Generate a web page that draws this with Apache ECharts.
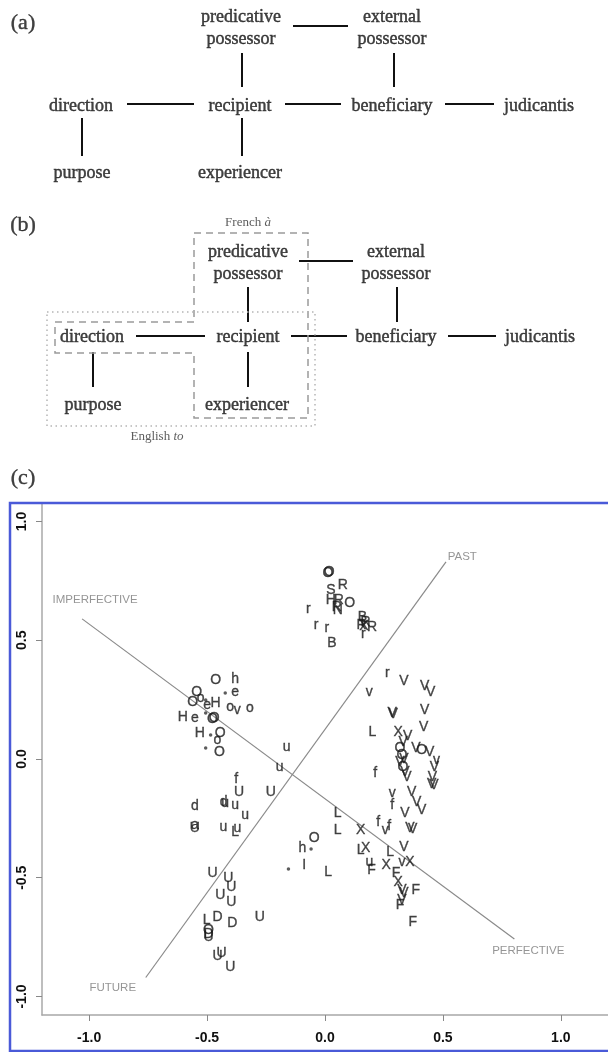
<!DOCTYPE html>
<html>
<head>
<meta charset="utf-8">
<script src="https://cdn.jsdelivr.net/npm/echarts@6/dist/echarts.min.js"></script>
<style>html,body{margin:0;padding:0;background:#fff}#c{width:608px;height:1052px}</style>
</head>
<body>
<div id="c"></div>
<script>
// ---------- Panels (a) and (b): semantic map nodes [label, x, y] in layout units ----------
const panelANodes = [
  ['predicative\npossessor', 241, 28], ['external\npossessor', 392, 28],
  ['direction', 81, 106], ['recipient', 240, 106], ['beneficiary', 392, 106], ['judicantis', 539, 106],
  ['purpose', 82, 173], ['experiencer', 240, 173]
];
const panelAEdges = [
  [[293, 26], [348, 26]], [[242, 53], [242, 87]], [[394, 53], [394, 87]],
  [[127, 104], [194, 104]], [[285, 104], [341, 104]], [[445, 104], [494, 104]],
  [[82, 118], [82, 156]], [[242, 118], [242, 156]]
];
const panelBNodes = [
  ['predicative\npossessor', 248, 263.5], ['external\npossessor', 396, 263.5],
  ['direction', 92, 337], ['recipient', 248, 337], ['beneficiary', 396, 337], ['judicantis', 540, 337],
  ['purpose', 93, 405], ['experiencer', 247, 405]
];
const panelBEdges = [
  [[299, 261], [353, 261]], [[248, 287], [248, 322]], [[397, 287], [397, 322]],
  [[136, 336], [205, 336]], [[291, 336], [347, 336]], [[448, 336], [496, 336]],
  [[93, 352], [93, 387]], [[248, 352], [248, 387]]
];
const frenchRegion = [[194,233],[308,233],[308,418],[194,418],[194,353],[55,353],[55,322],[194,322],[194,233]];
const englishRegion = [[47,312],[315,312],[315,426],[47,426],[47,312]];
const panelTags = [['(a)', 23, 23], ['(b)', 23, 225], ['(c)', 23, 478]];

// ---------- Panel (c): scatter of letters [x, y, letter] ----------
const pointsUpper = [
  [0.013,0.783,'O'],[0.018,0.786,'O'],[0.075,0.733,'R'],[0.025,0.712,'S'],[0.025,0.669,'H'],
  [0.059,0.669,'R'],[0.105,0.657,'O'],[0.054,0.627,'N'],[0.050,0.640,'R'],[-0.071,0.632,'r'],
  [-0.038,0.564,'r'],[0.008,0.552,'r'],[0.029,0.488,'B'],[0.159,0.598,'B'],[0.172,0.577,'R'],
  [0.200,0.556,'R'],[0.155,0.564,'R'],[0.165,0.560,'X'],[0.163,0.526,'r']
];
const pointsLeft = [
  [-0.464,0.333,'O'],[-0.381,0.337,'h'],[-0.381,0.282,'e'],[-0.544,0.282,'O'],[-0.561,0.240,'O'],
  [-0.527,0.257,'o'],[-0.464,0.236,'H'],[-0.402,0.219,'o'],[-0.372,0.206,'v'],[-0.318,0.215,'o'],
  [-0.603,0.177,'H'],[-0.552,0.173,'e'],[-0.477,0.168,'O'],[-0.470,0.172,'O'],[-0.531,0.109,'H'],
  [-0.444,0.109,'O'],[-0.456,0.080,'o'],[-0.448,0.029,'O'],[-0.500,0.225,'e']
];
const pointsMiddle = [
  [-0.163,0.051,'u'],[-0.192,-0.034,'u'],[-0.230,-0.139,'U'],[-0.377,-0.084,'f'],[-0.364,-0.139,'U'],
  [-0.552,-0.198,'d'],[-0.423,-0.185,'u'],[-0.430,-0.180,'d'],[-0.381,-0.194,'u'],[-0.339,-0.236,'u'],
  [-0.431,-0.286,'u'],[-0.372,-0.291,'u'],[-0.381,-0.307,'L'],[-0.552,-0.291,'U'],[-0.552,-0.280,'a'],
  [0.054,-0.227,'L'],[0.054,-0.299,'L'],[-0.046,-0.333,'O'],[-0.096,-0.375,'h'],[-0.088,-0.446,'I'],
  [0.013,-0.476,'L']
];
const pointsLowerLeft = [
  [-0.477,-0.480,'U'],[-0.410,-0.501,'U'],[-0.397,-0.539,'U'],[-0.444,-0.573,'U'],[-0.397,-0.602,'U'],
  [-0.456,-0.665,'D'],[-0.502,-0.678,'L'],[-0.393,-0.691,'D'],[-0.276,-0.665,'U'],[-0.494,-0.720,'O'],
  [-0.494,-0.737,'D'],[-0.494,-0.749,'U'],[-0.456,-0.829,'U'],[-0.439,-0.817,'U'],[-0.402,-0.876,'U']
];
const pointsRight = [
  [0.264,0.362,'r'],[0.335,0.328,'V'],[0.423,0.307,'V'],[0.448,0.282,'V'],[0.188,0.282,'v'],
  [0.285,0.194,'V'],[0.289,0.190,'V'],[0.423,0.206,'V'],[0.418,0.135,'V'],[0.201,0.114,'L'],
  [0.310,0.114,'X'],[0.351,0.097,'V'],[0.331,0.072,'V'],[0.318,0.046,'O'],[0.385,0.046,'V'],
  [0.410,0.038,'O'],[0.444,0.029,'V'],[0.473,-0.004,'v'],[0.464,-0.034,'V'],[0.456,-0.076,'V'],
  [0.452,-0.105,'V'],[0.462,-0.109,'V'],[0.326,0.017,'O'],[0.318,-0.013,'V'],[0.331,-0.034,'O'],
  [0.339,-0.055,'V'],[0.347,-0.076,'V'],[0.335,0.000,'V'],[0.213,-0.059,'f'],[0.285,-0.143,'v'],
  [0.368,-0.139,'V'],[0.389,-0.181,'V'],[0.410,-0.215,'V'],[0.285,-0.194,'f'],[0.339,-0.227,'V'],
  [0.226,-0.265,'f'],[0.151,-0.299,'X'],[0.255,-0.299,'v'],[0.272,-0.282,'f'],[0.360,-0.290,'V'],
  [0.372,-0.294,'V']
];
const pointsLowerRight = [
  [0.151,-0.383,'L'],[0.172,-0.375,'X'],[0.276,-0.392,'L'],[0.335,-0.371,'V'],[0.326,-0.434,'v'],
  [0.360,-0.434,'X'],[0.188,-0.434,'u'],[0.197,-0.467,'F'],[0.259,-0.446,'X'],[0.301,-0.480,'F'],
  [0.310,-0.518,'X'],[0.326,-0.552,'V'],[0.385,-0.552,'F'],[0.335,-0.564,'V'],[0.326,-0.594,'V'],
  [0.318,-0.615,'F'],[0.372,-0.686,'F']
];
const smallDots = [
  [-0.423,0.278],[-0.506,0.248],[-0.506,0.194],[-0.485,0.101],[-0.506,0.046],
  [-0.059,-0.379],[-0.155,-0.463]
];
const aspectAxis = [[-1.03,0.59],[0.803,-0.758]];
const tenseAxis = [[-0.76,-0.92],[0.513,0.83]];
const axisNames = [['IMPERFECTIVE',-0.975,0.67],['PERFECTIVE',0.862,-0.808],['PAST',0.582,0.851],['FUTURE',-0.900,-0.964]];
const tickValues = [-1, -0.5, 0, 0.5, 1];

const chart = echarts.init(document.getElementById('c'), null, {renderer: 'canvas'});
const serif = "'Liberation Serif', 'DejaVu Serif', serif";
const sans = "'Liberation Sans', Arial, sans-serif";
const ink = '#111';

function nodeData(nodes) {
  return nodes.map(n => ({value: [n[1], n[2]], name: n[0]}));
}
function textScatter(data, xi, label) {
  return {
    type: 'scatter', xAxisIndex: xi, yAxisIndex: xi, data: data,
    symbolSize: 1, itemStyle: {color: 'rgba(0,0,0,0)'},
    label: Object.assign({show: true, position: 'inside', formatter: '{b}', textBorderWidth: 0}, label),
    silent: true, z: 5
  };
}
const allLetters = [].concat(pointsUpper, pointsLeft, pointsMiddle, pointsLowerLeft, pointsRight, pointsLowerRight)
  .map(p => ({value: [p[0], p[1]], name: p[2]}));

const option = {
  animation: false,
  backgroundColor: '#fff',
  grid: [
    {left: 0, top: 0, width: 608, height: 1052},
    {left: 42, top: 503, width: 574, height: 512}
  ],
  xAxis: [
    {gridIndex: 0, type: 'value', min: 0, max: 608, show: false},
    {gridIndex: 1, type: 'value', min: -1.2, max: 1.2,
      splitLine: {show: false},
      axisLine: {show: true, onZero: false, lineStyle: {color: '#a8a8a8', width: 1.5}},
      axisTick: {show: true, customValues: tickValues, length: 6, lineStyle: {color: '#888', width: 1}},
      axisLabel: {customValues: tickValues, formatter: v => v.toFixed(1), color: ink, fontSize: 14,
        fontWeight: 'bold', fontFamily: sans, margin: 16}}
  ],
  yAxis: [
    {gridIndex: 0, type: 'value', min: 0, max: 1052, inverse: true, show: false},
    {gridIndex: 1, type: 'value', min: -1.078, max: 1.078,
      splitLine: {show: false},
      axisLine: {show: true, onZero: false, lineStyle: {color: '#a8a8a8', width: 1.5}},
      axisTick: {show: true, customValues: tickValues, length: 6, lineStyle: {color: '#888', width: 1}},
      axisLabel: {customValues: tickValues, formatter: v => v.toFixed(1), color: ink, fontSize: 14,
        fontWeight: 'bold', fontFamily: sans, rotate: 90, margin: 13}}
  ],
  graphic: [
    {type: 'rect', shape: {x: 10, y: 503, width: 620, height: 548},
      style: {fill: 'none', stroke: '#4a5ad8', lineWidth: 2.5}, z: 100, silent: true}
  ],
  series: [
    textScatter(nodeData(panelANodes.concat(panelBNodes)), 0,
      {color: ink, fontFamily: serif, fontSize: 18, lineHeight: 22, textBorderColor: ink, textBorderWidth: 0.45}),
    textScatter(nodeData(panelTags), 0, {color: ink, fontFamily: serif, fontSize: 22, textBorderColor: ink, textBorderWidth: 0.4}),
    textScatter([{value: [248, 223], name: 'French'}], 0,
      {color: '#333', fontFamily: serif, fontSize: 13,
        formatter: '{a|French }{b|à}', rich: {a: {fontFamily: serif, fontSize: 13, color: '#333'}, b: {fontFamily: serif, fontSize: 13, fontStyle: 'italic', color: '#333'}}}),
    textScatter([{value: [157, 437], name: 'English'}], 0,
      {color: '#333', fontFamily: serif, fontSize: 13,
        formatter: '{a|English }{b|to}', rich: {a: {fontFamily: serif, fontSize: 13, color: '#333'}, b: {fontFamily: serif, fontSize: 13, fontStyle: 'italic', color: '#333'}}}),
    {type: 'lines', coordinateSystem: 'cartesian2d', xAxisIndex: 0, yAxisIndex: 0,
      data: panelAEdges.concat(panelBEdges).map(e => ({coords: e})),
      lineStyle: {color: ink, width: 2, opacity: 1}, silent: true},
    {type: 'lines', coordinateSystem: 'cartesian2d', xAxisIndex: 0, yAxisIndex: 0, polyline: true,
      data: [{coords: frenchRegion}],
      lineStyle: {color: '#9a9a9a', width: 1.5, type: [7, 5], opacity: 1}, silent: true},
    {type: 'lines', coordinateSystem: 'cartesian2d', xAxisIndex: 0, yAxisIndex: 0, polyline: true,
      data: [{coords: englishRegion}],
      lineStyle: {color: '#b5b5b5', width: 1.5, type: [1.5, 3.5], opacity: 1}, silent: true},
    {type: 'lines', coordinateSystem: 'cartesian2d', xAxisIndex: 1, yAxisIndex: 1,
      data: [{coords: aspectAxis}, {coords: tenseAxis}],
      lineStyle: {color: '#8a8a8a', width: 1.2, opacity: 1}, silent: true},
    textScatter(axisNames.map(a => ({value: [a[1], a[2]], name: a[0]})), 1,
      {color: '#7a7a7a', fontFamily: sans, fontSize: 11.5}),
    textScatter(allLetters, 1, {color: '#1a1a1a', fontFamily: sans, fontSize: 14, textBorderColor: '#1a1a1a', textBorderWidth: 0.35}),
    {type: 'scatter', xAxisIndex: 1, yAxisIndex: 1, data: smallDots, symbol: 'circle', symbolSize: 3.5,
      itemStyle: {color: '#333'}, silent: true}
  ]
};
chart.setOption(option);
</script>
</body>
</html>
